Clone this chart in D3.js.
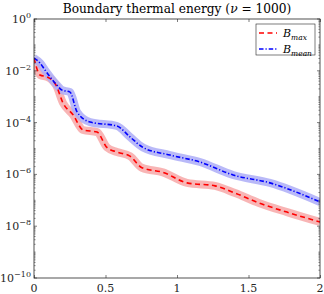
<!DOCTYPE html>
<html>
<head>
<meta charset="utf-8">
<script src="https://cdn.jsdelivr.net/npm/d3@7"></script>
<style>
  body { margin: 0; background: #fff; }
  svg { display: block; font-family: "DejaVu Serif", "Liberation Serif", serif; }
</style>
</head>
<body>
<div id="chart"></div>
<script>
// Boundary thermal energy chart, log y axis

// values
var maxT = [0, 0.042, 0.091, 0.126, 0.154, 0.203, 0.273, 0.343, 0.441, 0.510, 0.580, 0.671, 0.755, 0.902, 1.070, 1.266, 1.406, 1.573, 1.769, 2.0];
var maxV = [3.1e-2, 6.9e-3, 5.8e-3, 4.4e-3, 2.8e-3, 5.7e-4, 2.0e-4, 5.2e-5, 4.3e-5, 1.1e-5, 7.3e-6, 5.1e-6, 1.8e-6, 1.2e-6, 4.7e-7, 3.6e-7, 1.9e-7, 7.9e-8, 3.5e-8, 1.45e-8];
var meanT = [0, 0.042, 0.077, 0.147, 0.196, 0.252, 0.301, 0.392, 0.580, 0.671, 0.762, 0.951, 1.161, 1.392, 1.650, 2.0];
var meanV = [3.1e-2, 2.0e-2, 1.07e-2, 3.4e-3, 1.8e-3, 1.5e-3, 2.6e-4, 1.05e-4, 7.4e-5, 2.8e-5, 1.1e-5, 5.6e-6, 3.0e-6, 9.5e-7, 4.7e-7, 8.6e-8];
var xTicks = [0, 0.5, 1, 1.5, 2];
var xTickLabels = ["0", "0.5", "1", "1.5", "2"];
var yTickExp = [0, -2, -4, -6, -8, -10];

var W = 324, H = 294;
var margin = { top: 19, right: 4, bottom: 16, left: 34 },
    width = W - margin.left - margin.right,
    height = H - margin.top - margin.bottom;

var svg = d3.select("#chart").append("svg")
    .attr("width", W).attr("height", H);

var g = svg.append("g")
    .attr("transform", "translate(" + margin.left + "," + margin.top + ")");

var x = d3.scaleLinear().domain([0, 2]).range([0, width]);
var y = d3.scaleLog().domain([1e-10, 1]).range([height, 0]);

var axisColor = "#262626";

// clip to plot area
svg.append("defs").append("clipPath").attr("id", "clip")
  .append("rect").attr("width", width).attr("height", height);

var line = d3.line()
    .x(d => x(d[0]))
    .y(d => y(d[1]))
    .curve(d3.curveMonotoneX);

var series = [
  { t: maxT, v: maxV, color: "#ff0000", band: "#f7a8a8", dash: "5,3.5" },
  { t: meanT, v: meanV, color: "#0000ff", band: "#adadf7", dash: "4.5,2,1.2,2" }
];

var plot = g.append("g").attr("clip-path", "url(#clip)");

// shaded bands first
series.forEach(function (s) {
  var pts = s.t.map((t, i) => [t, s.v[i]]);
  plot.append("path")
    .attr("d", line(pts))
    .attr("fill", "none")
    .attr("stroke", s.band)
    .attr("stroke-width", 8)
    .attr("stroke-linejoin", "round")
    .attr("opacity", 0.85);
});
series.forEach(function (s) {
  var pts = s.t.map((t, i) => [t, s.v[i]]);
  plot.append("path")
    .attr("d", line(pts))
    .attr("fill", "none")
    .attr("stroke", s.color)
    .attr("stroke-width", 1.6)
    .attr("stroke-dasharray", s.dash);
});

// box and ticks (MATLAB style, inward)
var xAxisB = d3.axisBottom(x).tickValues(xTicks).tickFormat("").tickSizeInner(-3).tickSizeOuter(0);
var xAxisT = d3.axisTop(x).tickValues(xTicks).tickFormat("").tickSizeInner(-3).tickSizeOuter(0);

var minor = [];
for (var e = -10; e < 0; e++) {
  for (var m = 2; m <= 9; m++) minor.push(m * Math.pow(10, e));
}
var oddMajor = [-1, -3, -5, -7, -9].map(e => Math.pow(10, e));
var majorY = yTickExp.map(e => Math.pow(10, e));

function yTicks(sel, side) {
  var sgn = side === "left" ? 1 : -1;
  var x0 = side === "left" ? 0 : width;
  sel.selectAll("line.maj").data(majorY).enter().append("line")
    .attr("x1", x0).attr("x2", x0 + sgn * 3)
    .attr("y1", d => y(d)).attr("y2", d => y(d))
    .attr("stroke", axisColor).attr("stroke-width", 0.6);
  sel.selectAll("line.min").data(minor.concat(oddMajor)).enter().append("line")
    .attr("x1", x0).attr("x2", x0 + sgn * 1.6)
    .attr("y1", d => y(d)).attr("y2", d => y(d))
    .attr("stroke", axisColor).attr("stroke-width", 0.5);
}

g.append("g").attr("transform", "translate(0," + height + ")").call(xAxisB)
  .call(a => a.select(".domain").remove())
  .selectAll("line").attr("stroke", axisColor).attr("stroke-width", 0.6);
g.append("g").call(xAxisT)
  .call(a => a.select(".domain").remove())
  .selectAll("line").attr("stroke", axisColor).attr("stroke-width", 0.6);
yTicks(g.append("g"), "left");
yTicks(g.append("g"), "right");

g.append("rect")
  .attr("width", width).attr("height", height)
  .attr("fill", "none").attr("stroke", axisColor).attr("stroke-width", 0.8);

// x tick labels
g.selectAll("text.xt").data(xTicks).enter().append("text")
  .attr("x", d => x(d)).attr("y", height + 14)
  .attr("text-anchor", "middle")
  .attr("font-size", 11).attr("fill", axisColor)
  .text((d, i) => xTickLabels[i]);

// y tick labels 10^e
yTickExp.forEach(function (e) {
  var t = g.append("text")
    .attr("x", -3).attr("y", y(Math.pow(10, e)) + 4)
    .attr("text-anchor", "end")
    .attr("font-size", 11).attr("fill", axisColor);
  t.append("tspan").text("10");
  t.append("tspan").attr("dy", -5).attr("font-size", 8)
    .text(e === 0 ? "0" : "\u2212" + Math.abs(e));
});

// title
var title = svg.append("text")
  .attr("x", margin.left + width / 2).attr("y", 13)
  .attr("text-anchor", "middle")
  .attr("font-size", 12.2).attr("fill", "#000");
title.append("tspan").text("Boundary thermal energy (");
title.append("tspan").attr("font-style", "italic").text("\u03bd");
title.append("tspan").text(" = 1000)");

// legend
var lg = svg.append("g").attr("transform", "translate(256,24)");
lg.append("rect").attr("width", 59).attr("height", 31)
  .attr("fill", "#fff").attr("stroke", axisColor).attr("stroke-width", 0.6);
var names = ["max", "mean"];
series.forEach(function (s, i) {
  var yy = 9 + i * 16;
  lg.append("line").attr("x1", 3).attr("x2", 21).attr("y1", yy).attr("y2", yy)
    .attr("stroke", s.color).attr("stroke-width", 1.6)
    .attr("stroke-dasharray", s.dash);
  var t = lg.append("text").attr("x", 27).attr("y", yy + 4)
    .attr("font-size", 11).attr("font-style", "italic").attr("fill", "#000");
  t.append("tspan").text("B");
  t.append("tspan").attr("dy", 3).attr("font-size", 7.5).text(names[i]);
});
</script>
</body>
</html>
